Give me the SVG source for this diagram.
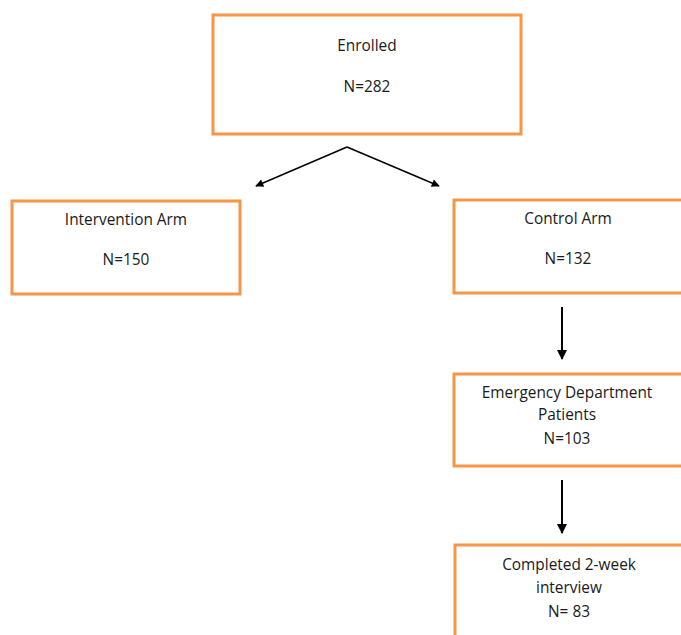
<svg xmlns="http://www.w3.org/2000/svg" width="681" height="635" viewBox="0 0 681 635">
<style>
.box{fill:#fff;stroke:#F79646;stroke-width:3}
.t{font-family:"Open Sans","Liberation Sans",Arial,sans-serif;font-size:15.4px;fill:#1a1a1a;text-anchor:middle}
.c{stroke:#000;fill:none}
</style>
<defs>
<marker id="ah" viewBox="0 0 10 10" refX="9" refY="5" markerWidth="10" markerHeight="8" markerUnits="userSpaceOnUse" orient="auto">
<path d="M0,0 L10,5 L0,10 z" fill="#000"/>
</marker>
<marker id="ah2" viewBox="0 0 10 10" refX="9" refY="5" markerWidth="11" markerHeight="10" markerUnits="userSpaceOnUse" orient="auto">
<path d="M0,0 L10,5 L0,10 z" fill="#000"/>
</marker>
</defs>
<rect width="681" height="635" fill="#fff"/>
<g id="connectors">
<line class="c" x1="347" y1="147" x2="256" y2="186" stroke-width="1.5" marker-end="url(#ah)"/>
<line class="c" x1="347" y1="147" x2="439" y2="186" stroke-width="1.5" marker-end="url(#ah)"/>
<line class="c" x1="562" y1="307" x2="562" y2="359" stroke-width="2" marker-end="url(#ah2)"/>
<line class="c" x1="562" y1="480" x2="562" y2="533" stroke-width="2" marker-end="url(#ah2)"/>
</g>
<g id="enrolled">
<rect class="box" x="213" y="15" width="308" height="119"/>
<text class="t" x="367" y="51">Enrolled</text>
<text class="t" x="367" y="92">N=282</text>
</g>
<g id="intervention">
<rect class="box" x="12" y="201" width="228" height="93"/>
<text class="t" x="126" y="225">Intervention Arm</text>
<text class="t" x="126" y="265">N=150</text>
</g>
<g id="control">
<rect class="box" x="454" y="200" width="240" height="93"/>
<text class="t" x="568" y="224">Control Arm</text>
<text class="t" x="568" y="264">N=132</text>
</g>
<g id="ed">
<rect class="box" x="454" y="374" width="240" height="92"/>
<text class="t" x="567" y="398">Emergency Department</text>
<text class="t" x="567" y="420">Patients</text>
<text class="t" x="567" y="444">N=103</text>
</g>
<g id="completed">
<rect class="box" x="455" y="545" width="240" height="100"/>
<text class="t" x="569" y="570">Completed 2-week</text>
<text class="t" x="569" y="593">interview</text>
<text class="t" x="569" y="617">N= 83</text>
</g>
</svg>
